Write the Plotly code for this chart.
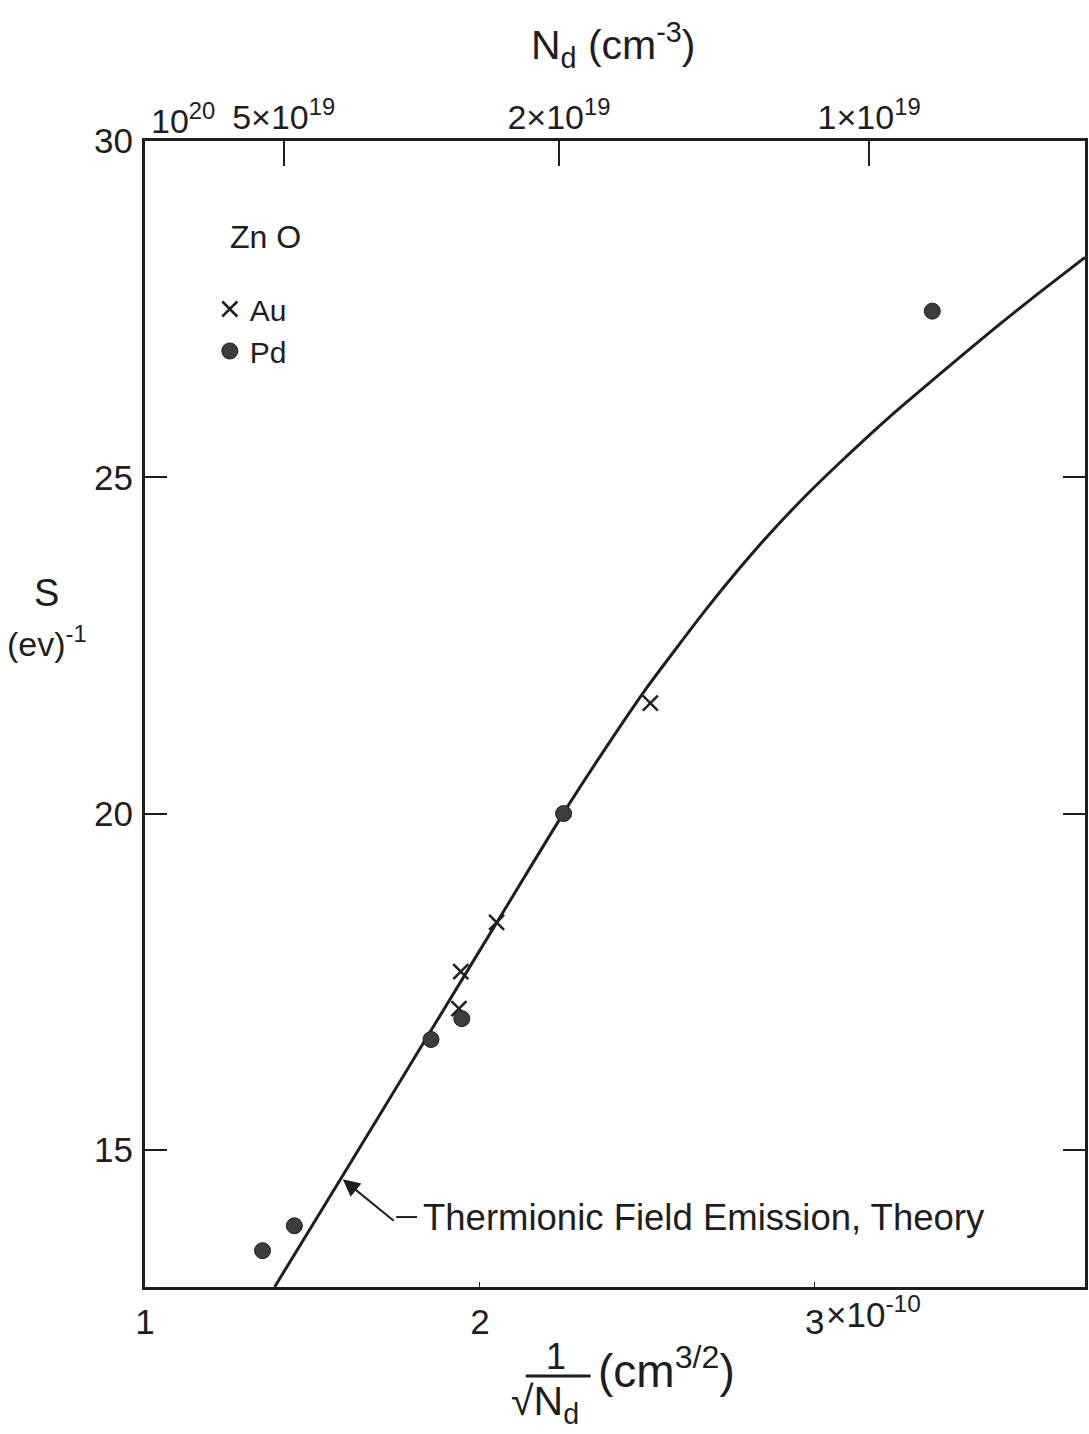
import numpy as np
import plotly.graph_objects as go

# ---------------- data ----------------
# x = 1/sqrt(Nd) in units of 1e-10 cm^3/2, y = S in (eV)^-1
theory_x = [1.387, 1.586, 1.839, 2.086, 2.25, 2.375, 2.494, 2.673, 2.771, 2.869, 2.970, 3.069,
            3.226, 3.351, 3.536, 3.664, 3.807]
theory_y = [12.96, 14.58, 16.65, 18.67, 20.01, 20.97, 21.84, 23.02, 23.62, 24.18, 24.71, 25.19,
            25.91, 26.44, 27.21, 27.72, 28.27]

au_x = [1.943, 1.9375, 2.05, 2.509]
au_y = [17.65, 17.10, 18.38, 21.64]

pd_x = [1.351, 1.446, 1.854, 1.946, 2.25, 3.351]
pd_y = [13.50, 13.87, 16.64, 16.95, 20.0, 27.47]

y_ticks = [15, 20, 25, 30]
x_ticks = [1, 2, 3]
x_ticktext = ["1", "2", "3"]
nd_ticks = [1e20, 5e19, 2e19, 1e19]
nd_ticktext = ["", "5×10<sup>19</sup>", "2×10<sup>19</sup>", "1×10<sup>19</sup>"]

# ---------------- figure ----------------
INK = "#1e1e1e"
FONT = "Liberation Sans"

X_RANGE = [1.0, 3.807]
Y_RANGE = [12.96, 30.0]

nd_pos = [1.0 / np.sqrt(n / 1e20) for n in nd_ticks]

fig = go.Figure()

fig.add_trace(go.Scatter(
    x=theory_x, y=theory_y, mode="lines",
    line=dict(color=INK, width=3, shape="spline", smoothing=0.6),
    showlegend=False, hoverinfo="skip", name="Theory"))

fig.add_trace(go.Scatter(
    x=au_x, y=au_y, mode="markers", name="Au",
    marker=dict(symbol="x-thin", size=15, color=INK, line=dict(color=INK, width=2.5))))

fig.add_trace(go.Scatter(
    x=pd_x, y=pd_y, mode="markers", name="Pd",
    marker=dict(symbol="circle", size=16, color="#3c3c3c", line=dict(color=INK, width=1))))

# helper trace so the top (Nd) axis is drawn
fig.add_trace(go.Scatter(x=nd_pos, y=[None] * len(nd_pos), xaxis="x2", mode="markers",
                         showlegend=False, hoverinfo="skip"))

W, H = 1089, 1434
L, R, T, B = 145, 1, 141, 147

fig.update_layout(
    width=W, height=H,
    margin=dict(l=L, r=R, t=T, b=B),
    paper_bgcolor="white", plot_bgcolor="white",
    font=dict(family=FONT, color=INK, size=35),
    xaxis=dict(range=X_RANGE, tickvals=x_ticks, ticktext=x_ticktext, ticks="inside", ticklen=5,
               tickwidth=1, tickcolor=INK, showline=True, linecolor=INK, linewidth=3, mirror=True,
               showgrid=False, zeroline=False, ticklabelstandoff=2,
               tickfont=dict(size=35, family=FONT, color=INK)),
    xaxis2=dict(range=X_RANGE, overlaying="x", side="top", anchor="y", tickvals=nd_pos,
                ticktext=nd_ticktext, ticks="inside", ticklen=25, tickwidth=2, tickcolor=INK,
                showline=False, showgrid=False, zeroline=False, ticklabelstandoff=4,
                tickfont=dict(size=34, family=FONT, color=INK)),
    yaxis=dict(range=Y_RANGE, tickvals=y_ticks, ticks="inside", ticklen=22, tickwidth=2,
               tickcolor=INK, showline=True, linecolor=INK, linewidth=3, mirror="ticks",
               showgrid=False, zeroline=False, ticklabelstandoff=2,
               tickfont=dict(size=35, family=FONT, color=INK)),
    legend=dict(x=(210 - L) / 943, y=1 - (283 - T) / 1146, xanchor="left", yanchor="top",
                bgcolor="rgba(0,0,0,0)", font=dict(size=30, family=FONT, color=INK),
                itemwidth=30, tracegroupgap=0),
    showlegend=True,
)

def px_x(p):
    return (p - L) / 943.0

def px_y(p):
    return (1287 - p) / 1146.0

ann = []
# top-left 10^20 label
ann.append(dict(text="10<sup>20</sup>", x=1.0, xref="x", y=px_y(118), yref="paper",
                xanchor="left", yanchor="middle", xshift=4, showarrow=False,
                font=dict(size=34, family=FONT, color=INK)))
# 3x10^-10 suffix
ann.append(dict(text="×10<sup>-10</sup>", x=3.0, xref="x", y=px_y(1312), yref="paper",
                xanchor="left", yanchor="middle", xshift=9, showarrow=False,
                font=dict(size=35, family=FONT, color=INK)))
# top title
ann.append(dict(text="N<sub>d</sub> (cm<sup>-3</sup>)", x=px_x(614), xref="paper", y=px_y(45),
                yref="paper", xanchor="center", yanchor="middle", showarrow=False,
                font=dict(size=41, family=FONT, color=INK)))
# y title
ann.append(dict(text="S", x=px_x(46), xref="paper", y=px_y(593), yref="paper",
                xanchor="center", yanchor="middle", showarrow=False,
                font=dict(size=38, family=FONT, color=INK)))
ann.append(dict(text="(ev)<sup>-1</sup>", x=px_x(47), xref="paper", y=px_y(641), yref="paper",
                xanchor="center", yanchor="middle", showarrow=False,
                font=dict(size=34, family=FONT, color=INK)))
# bottom title: fraction 1/sqrt(Nd) (cm^3/2)
ann.append(dict(text="1", x=px_x(557), xref="paper", y=px_y(1356), yref="paper",
                xanchor="center", yanchor="middle", showarrow=False,
                font=dict(size=36, family=FONT, color=INK)))
ann.append(dict(text="√N<sub>d</sub>", x=px_x(546), xref="paper", y=px_y(1404), yref="paper",
                xanchor="center", yanchor="middle", showarrow=False,
                font=dict(size=41, family=FONT, color=INK)))
ann.append(dict(text="(cm<sup>3/2</sup>)", x=px_x(668), xref="paper", y=px_y(1368), yref="paper",
                xanchor="center", yanchor="middle", showarrow=False,
                font=dict(size=46, family=FONT, color=INK)))
# legend title
ann.append(dict(text="Zn O", x=px_x(228), xref="paper", y=px_y(237), yref="paper",
                xanchor="left", yanchor="middle", showarrow=False,
                font=dict(size=32, family=FONT, color=INK)))
# theory annotation: arrow
tip_x, tip_y = 1.586, 14.58
ann.append(dict(text="", x=tip_x, y=tip_y, xref="x", yref="y", ax=54, ay=44,
                showarrow=True, arrowhead=2, arrowsize=1.7, arrowwidth=2, arrowcolor=INK,
                standoff=2))
elbow_x = 1 + (397 - L) / 336.0
text_x = 1 + (418 - L) / 336.0
elbow_y = 30 - (1217 - T) / 67.25
ann.append(dict(text="Thermionic Field Emission, Theory", x=text_x, y=elbow_y, xref="x", yref="y",
                xanchor="left", yanchor="middle", xshift=4, showarrow=False,
                font=dict(size=36.5, family=FONT, color=INK)))

fig.update_layout(annotations=ann)

fig.add_shape(type="line", xref="x", yref="y", x0=elbow_x, x1=text_x, y0=elbow_y, y1=elbow_y,
              line=dict(color=INK, width=2))
fig.add_shape(type="line", xref="paper", yref="paper", x0=px_x(527), x1=px_x(592),
              y0=px_y(1376), y1=px_y(1376), line=dict(color=INK, width=3))

fig.write_html("out.html")
